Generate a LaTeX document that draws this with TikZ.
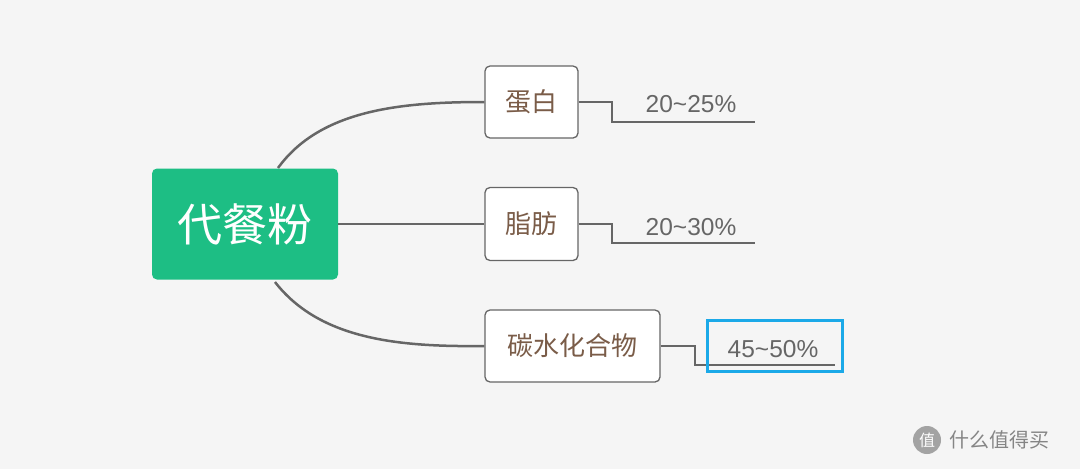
\documentclass[tikz,border=0pt]{standalone}
\usepackage{fontspec}
\setmainfont{Liberation Sans}
\newfontfamily\cjk{Noto Sans CJK SC}
\definecolor{bg}{HTML}{F5F5F5}
\definecolor{grn}{HTML}{1DBE84}
\definecolor{brn}{HTML}{7A5C48}
\definecolor{ln}{HTML}{666666}
\definecolor{blu}{HTML}{1BA9E8}
\tikzset{
 sub/.style={draw=ln,line width=1.3pt,rounded corners=5pt,fill=white,inner sep=0pt,font=\cjk\fontsize{26}{26}\selectfont,text=brn},
 con/.style={draw=ln,line width=2.5pt},
 leaf/.style={draw=ln,line width=1.3pt},
 pct/.style={font=\fontsize{24.5}{24.5}\selectfont,text=ln}
}
\begin{document}
\begin{tikzpicture}[x=1pt,y=-1pt]
\fill[bg] (0,0) rectangle (1080,469);
\node[fill=grn,rounded corners=5pt,minimum width=186pt,minimum height=111pt,inner sep=0pt,text=white,font=\cjk\fontsize{45}{45}\selectfont] (c) at (245,224) {代餐粉};
\node[sub,minimum width=93pt,minimum height=72pt] (a) at (531.5,102) {蛋白};
\node[sub,minimum width=93pt,minimum height=73pt] (b) at (531.5,224) {脂肪};
\node[sub,minimum width=175pt,minimum height=72pt] (d) at (572.5,346) {碳水化合物};
\draw[con] (278,168) .. controls (320,110) and (400,102) .. (a.west);
\draw[con] (c.east) -- (b.west);
\draw[con] (275,282) .. controls (320,340) and (400,347) .. (d.west);
\coordinate (e1) at (755,122); \coordinate (e2) at (755,243); \coordinate (e3) at (835,365);
\draw[leaf] (a.east) -- (612,102) -- (612,122) -- (e1);
\draw[leaf] (b.east) -- (612,224) -- (612,243) -- (e2);
\draw[leaf] (d.east) -- (695,346) -- (695,365) -- (e3);
\node[pct] (p1) at (691,104) {20\textasciitilde25\%};
\node[pct] (p2) at (691,227) {20\textasciitilde30\%};
\node[pct] (p3) at (773,349) {45\textasciitilde50\%};
\draw[blu,line width=3pt] (707,320) rectangle (842,371);
\node[circle,fill=ln!60,minimum size=28pt,inner sep=0pt,text=white,font=\cjk\fontsize{16}{16}\selectfont] (logo) at (927,440) {值};
\node[anchor=west,text=ln!80,font=\cjk\fontsize{20}{20}\selectfont] (wm) at (946,440) {什么值得买};
\end{tikzpicture}
\end{document}
